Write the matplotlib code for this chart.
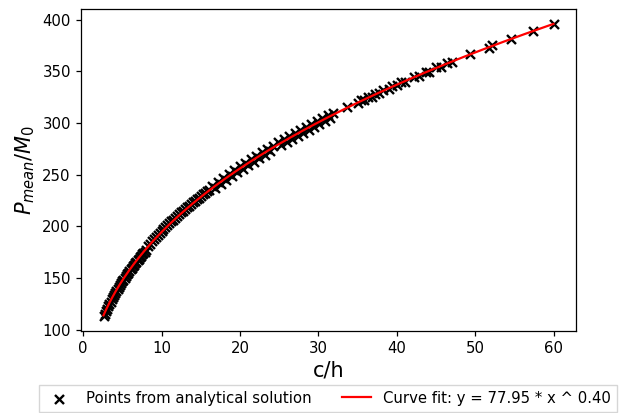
import matplotlib
matplotlib.use("Agg")
import matplotlib.pyplot as plt
import numpy as np

# Points (c/h, P_mean/M_0)
x_points = [2.6, 2.75, 2.9, 3.05, 3.2, 3.35, 3.5, 3.65, 3.8, 3.95, 4.1, 4.25, 4.4, 4.55, 4.7,
            4.85, 5.0, 5.15, 5.3, 5.45, 5.6, 5.75, 5.9, 6.05, 6.2, 6.35, 6.5, 6.65, 6.8, 6.95,
            7.1, 7.25, 7.4, 7.55, 7.7, 7.85, 8.0,
            8.25, 8.5, 8.75, 9.0, 9.25, 9.5, 9.75, 10.0, 10.25, 10.5, 10.75, 11.0, 11.25, 11.5,
            11.75, 12.0, 12.25, 12.5, 12.75, 13.0, 13.25, 13.5, 13.75, 14.0, 14.25, 14.5, 14.75,
            15.0, 15.25, 15.5, 15.75, 16.0,
            16.5, 16.85, 17.2, 17.55, 17.9, 18.25, 18.6, 18.95, 19.3, 19.65, 20.0, 20.35, 20.7,
            21.05, 21.4, 21.75, 22.1, 22.45, 22.8, 23.15, 23.5, 23.85, 24.2,
            24.9, 25.25, 25.6, 25.95, 26.3, 26.65, 27.0, 27.35, 27.7, 28.05, 28.4, 28.75, 29.1,
            29.45, 29.8, 30.15, 30.5, 30.85, 31.2, 31.55, 31.9,
            33.6, 35.0, 35.4, 35.8, 36.4, 36.8, 37.2, 37.8, 38.2, 39.0, 39.4, 40.0, 40.5,
            41.1, 42.2, 42.8, 43.7, 44.1, 45.0, 45.6, 46.4, 47.0, 49.4, 51.8, 52.1, 54.6,
            57.4, 60.0]
y_points = [112.9, 115.5, 118.0, 120.4, 122.7, 125.0, 127.2, 129.3, 131.4, 133.5, 135.5, 137.4,
            139.4, 141.3, 143.1, 144.9, 146.7, 148.4, 150.1, 151.8, 153.5, 155.1, 156.7, 158.3,
            159.8, 161.4, 162.9, 164.4, 165.8, 167.3, 168.7, 170.1, 171.5, 172.9, 174.3, 175.6,
            177.0,
            181.2, 183.3, 185.4, 187.5, 189.5, 191.5, 193.5, 195.4, 197.4, 199.3, 201.1, 203.0,
            204.8, 206.5, 208.3, 210.1, 211.8, 213.5, 215.2, 216.8, 218.4, 220.1, 221.6, 223.2,
            224.8, 226.4, 227.9, 229.4, 230.9, 232.4, 233.9, 235.3,
            239.2, 237.2, 243.2, 241.1, 247.0, 244.9, 250.8, 248.6, 254.5, 252.3, 258.1, 255.8,
            261.6, 259.3, 265.0, 262.7, 268.4, 266.1, 271.7, 269.4, 275.0, 272.6, 278.2,
            281.3, 278.9, 284.4, 281.9, 287.5, 285.0, 290.4, 287.9, 293.4, 290.9, 296.3, 293.7,
            299.2, 296.6, 302.0, 299.4, 304.7, 302.1, 307.5, 304.9, 310.2,
            315.6, 319.8, 321.9, 322.0, 325.5, 325.6, 328.3, 329.0, 331.8, 333.2, 335.9, 336.6,
            339.5, 340.2, 345.1, 345.7, 349.9, 349.9, 354.0, 354.6, 358.3, 358.8, 367.3, 373.0,
            375.2, 381.0, 388.7, 396.3]

# Curve fit parameters
fit_a = 77.95
fit_b = 0.397
fit_label = "Curve fit: y = 77.95 * x ^ 0.40"
point_label = "Points from analytical solution"

fig = plt.figure(figsize=(6.22, 4.13), dpi=100)
ax = fig.add_axes([81/622, 82/413, 495/622, 322/413])

ax.scatter(x_points, y_points, marker='x', color='black', s=42, linewidths=1.7,
           label=point_label, zorder=2)
xs = np.linspace(min(x_points), max(x_points), 300)
ax.plot(xs, fit_a * xs ** fit_b, color='red', linewidth=1.6, label=fit_label, zorder=3)

ax.set_xticks([0, 10, 20, 30, 40, 50, 60])
ax.set_yticks([100, 150, 200, 250, 300, 350, 400])
ax.tick_params(labelsize=10.7, width=0.9, length=3.8)
for s in ax.spines.values():
    s.set_linewidth(0.9)
ax.set_xlabel("c/h", fontsize=15, labelpad=3)
ax.set_ylabel(r"$P_{mean}/M_0$", fontsize=15, labelpad=4)

fig.legend(loc='center', bbox_to_anchor=(0.527, 0.036), ncol=2, fontsize=10.7,
           scatterpoints=1, frameon=True, fancybox=False)

fig.savefig("out.png", dpi=100)
